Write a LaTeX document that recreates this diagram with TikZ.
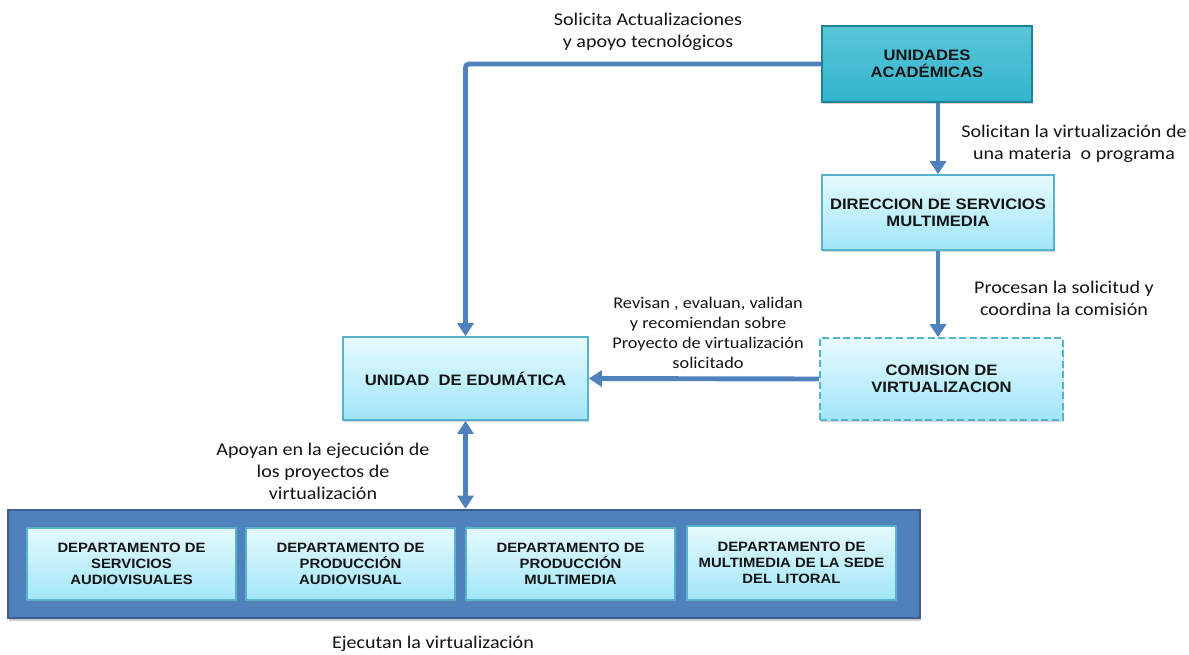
\documentclass[tikz,border=0pt]{standalone}
\usepackage{fontspec}
\setmainfont[FakeStretch=1.12]{Carlito}
\newfontfamily\boxfont[FakeStretch=1.1]{Liberation Sans}
\usepackage{xcolor}
\usepackage{tikz}
\usetikzlibrary{
    arrows.meta,
    calc,
    positioning,
    shadows,
    shadings
}
\definecolor{flowblue}{RGB}{79,129,189}
\definecolor{flowdark}{RGB}{58,95,143}
\definecolor{cyanedge}{RGB}{88,178,204}
\definecolor{cyantop}{RGB}{230,250,254}
\definecolor{cyanbot}{RGB}{160,230,247}
\definecolor{tealfill}{RGB}{49,182,206}
\definecolor{tealdark}{RGB}{30,130,150}
\definecolor{textblack}{RGB}{20,20,20}

\begin{document}
\begin{tikzpicture}[
    x=0.02cm, y=-0.02cm,
    every node/.style={text=textblack},
    unitbox/.style={draw=cyanedge, line width=1pt, top color=cyantop, bottom color=cyanbot,
        font=\boxfont\bfseries\fontsize{8.6}{9.6}\selectfont, align=center,
        drop shadow={shadow xshift=0.6pt, shadow yshift=-1.2pt, opacity=0.35}},
    deptbox/.style={unitbox, minimum width=4.18cm, minimum height=1.44cm,
        font=\boxfont\bfseries\fontsize{7.7}{9.2}\selectfont},
    flow/.style={flowblue, line width=2.8pt, -{Triangle[length=2.6mm, width=3.2mm]}},
    twoway/.style={flowblue, line width=2.8pt, {Triangle[length=2.6mm, width=3.2mm]}-{Triangle[length=2.6mm, width=3.2mm]}},
    note/.style={font=\fontsize{10.2}{12.5}\selectfont, align=center}
]
    \useasboundingbox (0,0) rectangle (1189,654);

    % Top: academic units
    \node[unitbox, draw=tealdark, top color=tealfill!80, bottom color=tealfill, line width=1.2pt,
        minimum width=4.2cm, minimum height=1.52cm] (ua) at (927,64) {UNIDADES\\ACADÉMICAS};

    % Right column
    \node[unitbox, minimum width=4.64cm, minimum height=1.5cm] (dsm) at (938,212.5)
        {DIRECCION DE SERVICIOS\\MULTIMEDIA};
    \node[unitbox, dashed, dash pattern=on 4pt off 2pt, minimum width=4.86cm, minimum height=1.64cm]
        (cv) at (941.5,379) {COMISION DE\\VIRTUALIZACION};

    % Edumatica unit
    \node[unitbox, minimum width=4.9cm, minimum height=1.66cm] (ue) at (465.5,378.5)
        {UNIDAD \ DE EDUMÁTICA};

    % Departments frame
    \node[draw=flowdark, fill=flowblue, line width=1.5pt, minimum width=18.24cm, minimum height=2.16cm,
        drop shadow={shadow xshift=0.8pt, shadow yshift=-1.5pt, opacity=0.4}] (dep) at (464,564) {};
    \node[deptbox] (d1) at (131.5,564) {DEPARTAMENTO DE\\SERVICIOS\\AUDIOVISUALES};
    \node[deptbox] (d2) at (350.5,564) {DEPARTAMENTO DE\\PRODUCCIÓN\\AUDIOVISUAL};
    \node[deptbox] (d3) at (570.5,564) {DEPARTAMENTO DE\\PRODUCCIÓN\\MULTIMEDIA};
    \node[deptbox, minimum height=1.48cm] (d4) at (791.5,563) {DEPARTAMENTO DE\\MULTIMEDIA DE LA SEDE\\DEL LITORAL};

    % Connectors
    \draw[flow, rounded corners=2pt] (ua.west) -| (ue.north);
    \draw[flow] (dsm.north |- ua.south) -- (dsm.north);
    \draw[flow] (dsm.south) -- (dsm.south |- cv.north);
    \draw[flow] (cv.west) -- (ue.east);
    \draw[twoway] (ue.south) -- (ue.south |- dep.north);

    % Labels
    \node[note] (l1) at (648,32) {Solicita Actualizaciones\\ y apoyo tecnológicos};
    \node[note] (l2) at (1074,144) {Solicitan la virtualización de\\una materia \ o programa};
    \node[note] (l3) at (1064,298) {Procesan la solicitud y\\coordina la comisión};
    \node[note, font=\fontsize{9.3}{11.3}\selectfont] (l4) at (708,333)
        {Revisan , evaluan, validan\\ y recomiendan sobre\\Proyecto de virtualización\\solicitado};
    \node[note] (l5) at (323,471) {Apoyan en la ejecución de\\los proyectos de\\virtualización};
    \node[note] (l6) at (433,644) {Ejecutan la virtualización};

\end{tikzpicture}
\end{document}
